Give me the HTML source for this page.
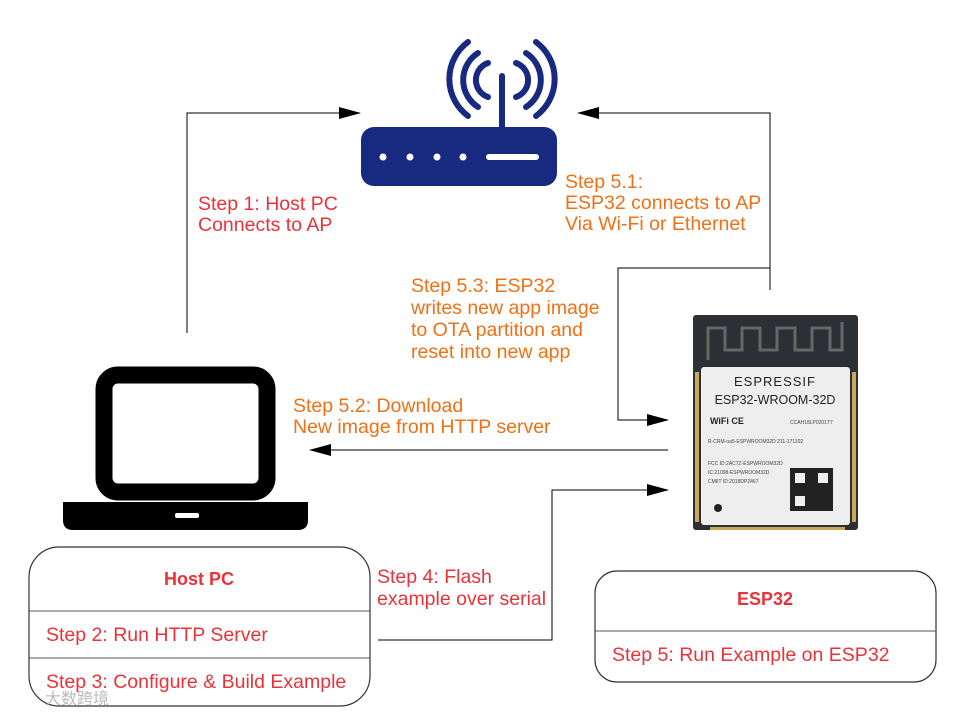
<!DOCTYPE html>
<html><head><meta charset="utf-8"><style>
body{margin:0;background:#fff}
svg{display:block}
text{font-family:"Liberation Sans",sans-serif;font-size:19.5px}
.r{fill:#e8333a}.o{fill:#f07016}
</style></head><body>
<svg width="958" height="718" viewBox="0 0 958 718" xmlns="http://www.w3.org/2000/svg">
<defs><marker id="b" markerWidth="22" markerHeight="12" refX="21" refY="6" orient="auto" markerUnits="userSpaceOnUse"><path d="M0,0L22,6L0,12z" fill="#000"/></marker></defs>
<!-- router -->
<g fill="none" stroke="#172a80" stroke-width="6" stroke-linecap="round">
<path d="M488 63 A18 18 0 0 0 488 97"/><path d="M516 63 A18 18 0 0 1 516 97"/>
<path d="M478 53 A32 32 0 0 0 478 107"/><path d="M526 53 A32 32 0 0 1 526 107"/>
<path d="M468 42 A46 46 0 0 0 468 116"/><path d="M536 42 A46 46 0 0 1 536 116"/>
<line x1="502" y1="76" x2="502" y2="128"/></g>
<rect x="361" y="127" width="196" height="59" rx="13" fill="#172a80"/>
<g fill="#fff"><circle cx="383" cy="157" r="3.5"/><circle cx="410" cy="157" r="3.5"/><circle cx="437" cy="157" r="3.5"/><circle cx="463" cy="157" r="3.5"/><rect x="486" y="154" width="53" height="6" rx="3"/></g>
<!-- laptop -->
<rect x="104" y="375" width="163" height="117" rx="14" fill="none" stroke="#000" stroke-width="17"/>
<path d="M63 502H308V520Q308 530 298 530H73Q63 530 63 520Z" fill="#000"/>
<rect x="175" y="513" width="24" height="5" rx="2" fill="#fff"/>
<!-- esp32 module -->
<rect x="693" y="315" width="165" height="215" rx="3" fill="#2c2f33"/>
<path d="M708 360V328H725V350H742V328H760V350H777V328H795V350H812V328H830V350H842V322" fill="none" stroke="#666" stroke-width="3"/>
<rect x="701" y="367" width="149" height="158" rx="3" fill="#eeeeee"/>
<g fill="#c9a85a"><rect x="695" y="372" width="4" height="150"/><rect x="852" y="372" width="4" height="150"/><rect x="710" y="527" width="135" height="3"/></g>
<text x="775" y="386" text-anchor="middle" style="font-size:13px;letter-spacing:1px" fill="#222">ESPRESSIF</text>
<text x="775" y="404" text-anchor="middle" style="font-size:12.5px" fill="#222">ESP32-WROOM-32D</text>
<text x="710" y="424" style="font-size:9px;font-weight:bold" fill="#222">WiFi  CE</text>
<text x="790" y="424" style="font-size:5px" fill="#444">CCAH18LP0201T7</text>
<text x="708" y="443" style="font-size:5px" fill="#444">R-CRM-oa5-ESPWROOM32D   211-171102</text>
<text x="708" y="465" style="font-size:5px" fill="#444">FCC ID:2AC7Z-ESPWROOM32D</text>
<text x="708" y="474" style="font-size:5px" fill="#444">IC:21098-ESPWROOM32D</text>
<text x="708" y="483" style="font-size:5px" fill="#444">CMIIT ID:2018DP2467</text>
<rect x="790" y="468" width="43" height="43" fill="#222"/><rect x="795" y="473" width="10" height="10" fill="#eee"/><rect x="818" y="473" width="10" height="10" fill="#eee"/><rect x="795" y="496" width="10" height="10" fill="#eee"/>
<circle cx="718" cy="508" r="4" fill="#222"/>
<!-- connectors -->
<g fill="none" stroke="#000" stroke-width="1">
<path d="M187 333V113H360" marker-end="url(#b)"/>
<path d="M770 290V113H578" marker-end="url(#b)"/>
<path d="M770 268H618V420H668" marker-end="url(#b)"/>
<path d="M668 450H310" marker-end="url(#b)"/>
<path d="M378 640H552V490H668" marker-end="url(#b)"/>
</g>
<!-- labels -->
<text class="r" x="198" y="210">Step 1: Host PC</text><text class="r" x="198" y="231">Connects to AP</text>
<text class="o" x="565" y="188">Step 5.1:</text><text class="o" x="565" y="209">ESP32 connects to AP</text><text class="o" x="565" y="230">Via Wi-Fi or Ethernet</text>
<text class="o" x="411" y="292">Step 5.3: ESP32</text><text class="o" x="411" y="314">writes new app image</text><text class="o" x="411" y="336">to OTA partition and</text><text class="o" x="411" y="358">reset into new app</text>
<text class="o" x="293" y="412">Step 5.2:  Download</text><text class="o" x="293" y="433">New image from HTTP server</text>
<text class="r" x="377" y="583">Step 4: Flash</text><text class="r" x="377" y="605">example over serial</text>
<!-- Host PC box -->
<rect x="29" y="547" width="341" height="159" rx="30" fill="none" stroke="#333" stroke-width="1.2"/>
<line x1="29" y1="611" x2="370" y2="611" stroke="#555"/><line x1="29" y1="658" x2="370" y2="658" stroke="#555"/>
<text class="r" x="199" y="585" text-anchor="middle" style="font-weight:bold;font-size:18px">Host PC</text>
<text class="r" x="46" y="641">Step 2: Run HTTP Server</text>
<text class="r" x="46" y="688">Step 3: Configure &amp; Build Example</text>
<!-- ESP32 box -->
<rect x="595" y="571" width="341" height="111" rx="22" fill="none" stroke="#333" stroke-width="1.2"/>
<line x1="595" y1="631" x2="936" y2="631" stroke="#555"/>
<text class="r" x="765" y="605" text-anchor="middle" style="font-weight:bold;font-size:18px">ESP32</text>
<text class="r" x="612" y="661">Step 5: Run Example on ESP32</text>
<text x="45" y="704" style="font-size:16px" fill="#bbb" font-family="Noto Sans CJK SC">大数跨境</text>
</svg>
</body></html>
